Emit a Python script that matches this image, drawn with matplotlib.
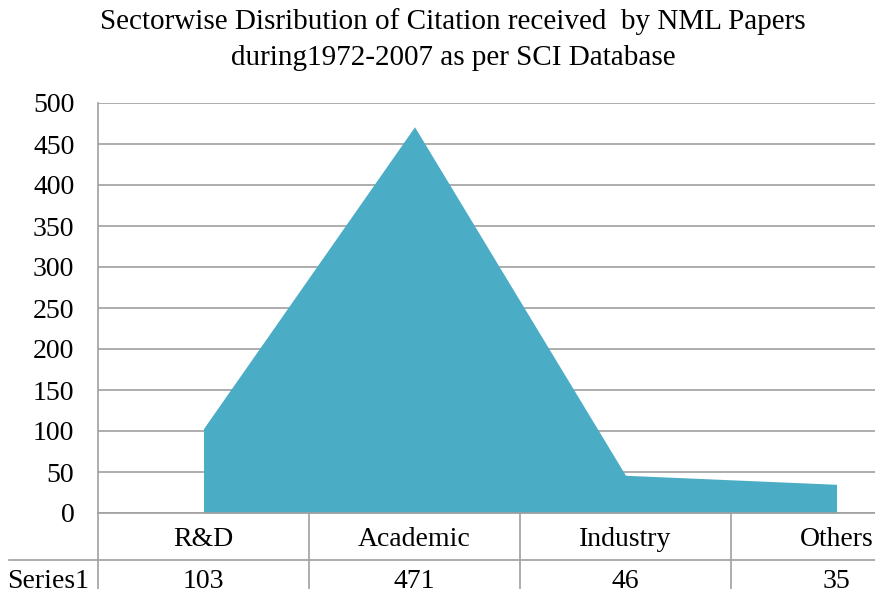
import matplotlib
matplotlib.use('Agg')
import matplotlib.pyplot as plt
from matplotlib.lines import Line2D

# data
categories = ['R&D', 'Academic', 'Industry', 'Others']
citations = [103, 471, 46, 35]
series_name = 'Series1'
title_lines = ['Sectorwise Disribution of Citation received  by NML Papers',
               'during1972-2007 as per SCI Database']

W, H = 875, 589
plt.rcParams['font.family'] = ['Liberation Serif', 'DejaVu Serif']
FS = 20

fig = plt.figure(figsize=(W / 100, H / 100), dpi=100)
# plot area runs past the right edge, like the cropped original
left_px, right_px, top_px, bot_px = 98, 942, 103, 513
ax = fig.add_axes([left_px / W, 1 - bot_px / H,
                   (right_px - left_px) / W, (bot_px - top_px) / H])

x = list(range(len(categories)))
ax.fill_between(x, citations, color='#4BACC6', linewidth=0, zorder=2)

ax.set_xlim(-0.5, len(categories) - 0.5)
ax.set_ylim(0, 500)
ax.set_yticks(range(0, 501, 50))
ax.set_xticks([])
ax.tick_params(axis='y', length=0, pad=17, labelsize=FS)
ax.grid(axis='y', color='#A0A0A0', lw=1.2, zorder=1)
ax.set_axisbelow(True)
for s in ['top', 'right']:
    ax.spines[s].set_visible(False)
for s in ['left', 'bottom']:
    ax.spines[s].set_color('#A0A0A0')
    ax.spines[s].set_linewidth(1.2)

# data table under the axis
grey = '#A0A0A0'
plot_h = bot_px - top_px
row_h = 47 / plot_h
col_px = (right_px - left_px) / len(categories)
tr = ax.get_xaxis_transform()
for xv in [i - 0.5 for i in range(len(categories) + 1)]:
    ax.add_line(Line2D([xv, xv], [0, -2.2 * row_h], color=grey, lw=1.2,
                       transform=tr, clip_on=False))
x_start = -0.5 - (left_px - 9) / col_px
ax.add_line(Line2D([x_start, len(categories) - 0.5], [-row_h, -row_h],
                   color=grey, lw=1.2, transform=tr, clip_on=False))

cat_base = -(546 - bot_px) / plot_h
val_base = -(588 - bot_px) / plot_h
for i, (c, v) in enumerate(zip(categories, citations)):
    ax.text(i, cat_base, c, ha='center', va='baseline', fontsize=FS,
            transform=tr, clip_on=False)
    ax.text(i, val_base, str(v), ha='center', va='baseline', fontsize=FS,
            transform=tr, clip_on=False)
ax.text(-0.5 - (left_px - 48) / col_px, val_base, series_name,
        ha='center', va='baseline', fontsize=FS, transform=tr, clip_on=False)

fig.text(453 / W, 1 - 22 / H, title_lines[0], ha='center', va='center', fontsize=21)
fig.text(453 / W, 1 - 58 / H, title_lines[1], ha='center', va='center', fontsize=21)

fig.savefig('out.png', dpi=100)
